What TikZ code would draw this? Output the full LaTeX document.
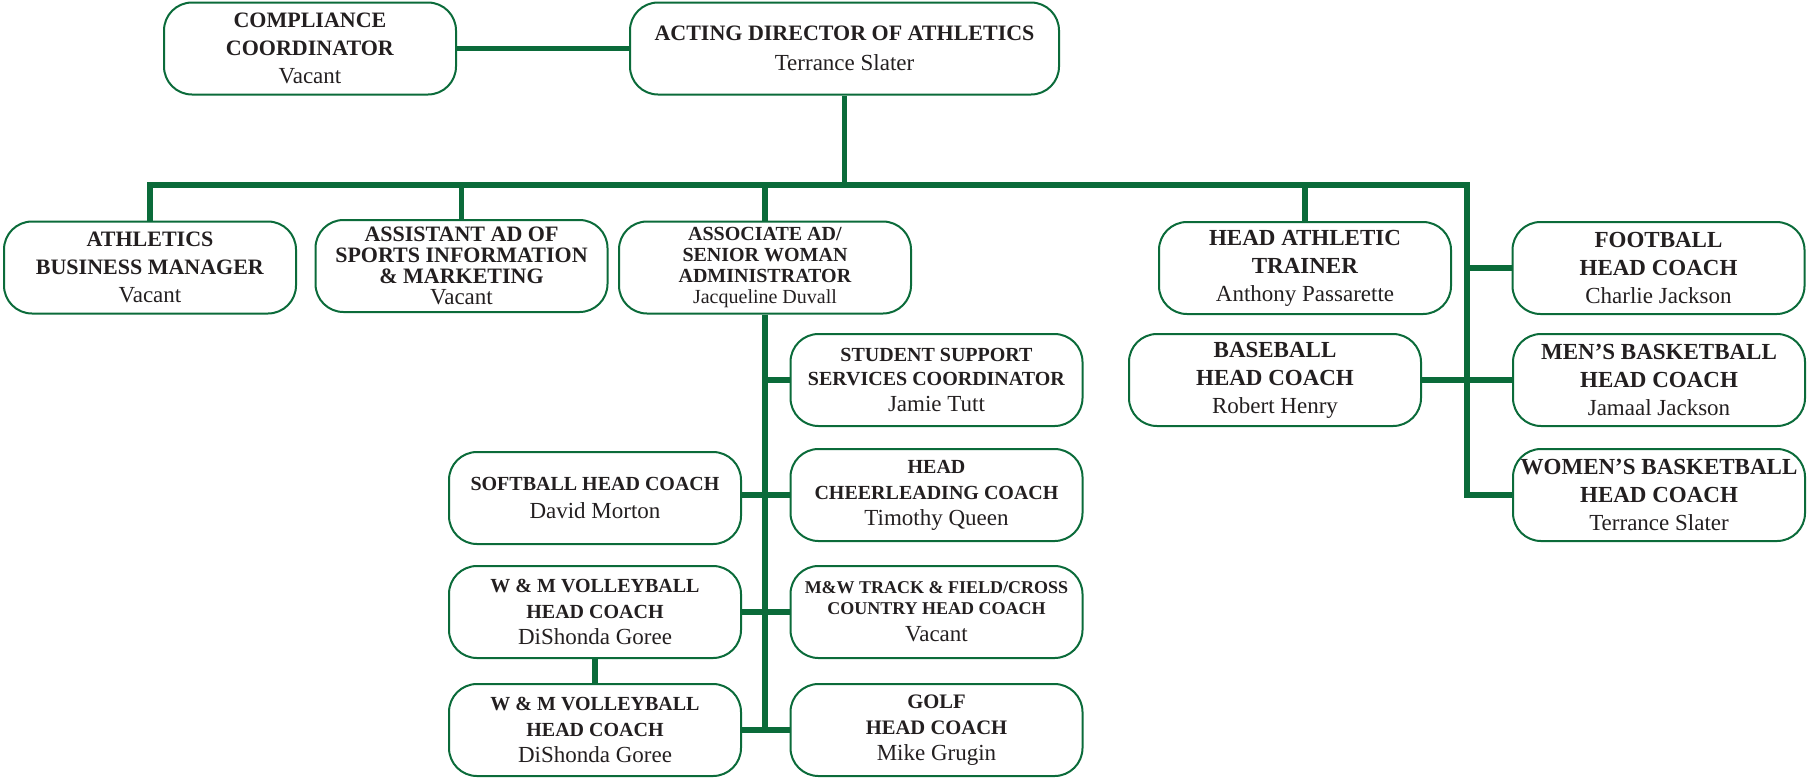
\documentclass[tikz,border=0pt]{standalone}
\usepackage{fontspec}
\setmainfont{Liberation Serif}
\definecolor{orggreen}{HTML}{0B6B3A}
\definecolor{inkgray}{HTML}{231F20}
\tikzset{
	unit/.style={draw=orggreen,line width=1pt,rounded corners=14pt,minimum width=146pt,minimum height=46pt,inner sep=0pt,align=center,text=inkgray,font=\fontsize{11}{14}\selectfont},
	wideunit/.style={unit,minimum width=214.5pt},
	link/.style={draw=orggreen,line width=2.6pt},
}
\newcommand{\hd}[1]{\textbf{#1}}
\newcommand{\nm}[1]{{\fontsize{11.5}{14}\selectfont #1}}
\begin{document}
\begin{tikzpicture}[x=0.5pt,y=-0.5pt]
			\useasboundingbox (0,0) rectangle (1809,778);
			%Top row
			\node[wideunit] (director) at (844.5,48.5) {\hd{ACTING DIRECTOR OF ATHLETICS}\\[1pt]\nm{Terrance Slater}};
			\node[unit] (compliance) at (310,48.5) {\hd{COMPLIANCE}\\\hd{COORDINATOR}\\\nm{Vacant}};
			%Second row
			\node[unit] (business) at (150,267.5) {\hd{ATHLETICS}\\\hd{BUSINESS MANAGER}\\\nm{Vacant}};
			\node[unit,font=\fontsize{11}{10.6}\selectfont] (sportsinfo) at (461.5,266) {\hd{ASSISTANT AD OF}\\\hd{SPORTS INFORMATION}\\\hd{\& MARKETING}\\\nm{Vacant}};
			\node[unit,font=\fontsize{10}{10.5}\selectfont] (associate) at (765,267.5) {\hd{ASSOCIATE AD/}\\\hd{SENIOR WOMAN}\\\hd{ADMINISTRATOR}\\{\fontsize{10}{10.5}\selectfont Jacqueline Duvall}};
			\node[unit,font=\fontsize{11.5}{14}\selectfont] (trainer) at (1305,268) {\hd{HEAD ATHLETIC}\\\hd{TRAINER}\\\nm{Anthony Passarette}};
			\node[unit,font=\fontsize{11.5}{14}\selectfont] (football) at (1658.5,268) {\hd{FOOTBALL}\\\hd{HEAD COACH}\\\nm{Charlie Jackson}};
			%Right column
			\node[unit,font=\fontsize{11.5}{14}\selectfont] (baseball) at (1275,380) {\hd{BASEBALL}\\\hd{HEAD COACH}\\\nm{Robert Henry}};
			\node[unit,font=\fontsize{11.5}{14}\selectfont] (menbb) at (1659,380) {\hd{MEN’S BASKETBALL}\\\hd{HEAD COACH}\\\nm{Jamaal Jackson}};
			\node[unit,font=\fontsize{11.5}{14}\selectfont] (womenbb) at (1659,495) {\hd{WOMEN’S BASKETBALL}\\\hd{HEAD COACH}\\\nm{Terrance Slater}};
			%Associate AD column
			\node[unit,font=\fontsize{10}{12}\selectfont] (support) at (936.5,380) {\hd{STUDENT SUPPORT}\\\hd{SERVICES COORDINATOR}\\[1pt]\nm{Jamie Tutt}};
			\node[unit,font=\fontsize{10}{13}\selectfont] (cheer) at (936.5,495) {\hd{HEAD}\\\hd{CHEERLEADING COACH}\\\nm{Timothy Queen}};
			\node[unit,font=\fontsize{9}{10.5}\selectfont] (track) at (936.5,612) {\hd{M\&W TRACK \& FIELD/CROSS}\\\hd{COUNTRY HEAD COACH}\\[3pt]\nm{Vacant}};
			\node[unit,font=\fontsize{10.3}{13}\selectfont] (golf) at (936.5,730) {\hd{GOLF}\\\hd{HEAD COACH}\\\nm{Mike Grugin}};
			\node[unit,font=\fontsize{10}{14}\selectfont] (softball) at (595,498) {\hd{SOFTBALL HEAD COACH}\\\nm{David Morton}};
			\node[unit,font=\fontsize{10}{13}\selectfont] (volley) at (595,612) {\hd{W \& M VOLLEYBALL}\\\hd{HEAD COACH}\\\nm{DiShonda Goree}};
			\node[unit,font=\fontsize{10}{13}\selectfont] (volleytwo) at (595,730) {\hd{W \& M VOLLEYBALL}\\\hd{HEAD COACH}\\\nm{DiShonda Goree}};
			%Bus
			\coordinate (hub) at (844.5,185);
			\coordinate (corner) at (1467,185);
			\draw[link] (compliance) -- (director);
			\draw[link] (director) -- (hub);
			\draw[link] (business.north) |- (corner) -- (corner |- womenbb.west) -- (womenbb.west);
			\foreach \n in {sportsinfo,associate,trainer}
				{
					\draw[link] (\n.north) -- (\n.north |- hub);
				}
			\draw[link] (corner |- football.west) -- (football.west);
			\draw[link] (baseball) -- (menbb);
			%Associate AD spine
			\draw[link] (associate.south) -- (associate.south |- golf.west);
			\draw[link] (associate.south |- support.west) -- (support.west);
			\draw[link] (softball.east |- cheer.west) -- (cheer.west);
			\draw[link] (volley) -- (track);
			\draw[link] (volleytwo) -- (golf);
			\draw[link] (volley) -- (volleytwo);
		\end{tikzpicture}
\end{document}
